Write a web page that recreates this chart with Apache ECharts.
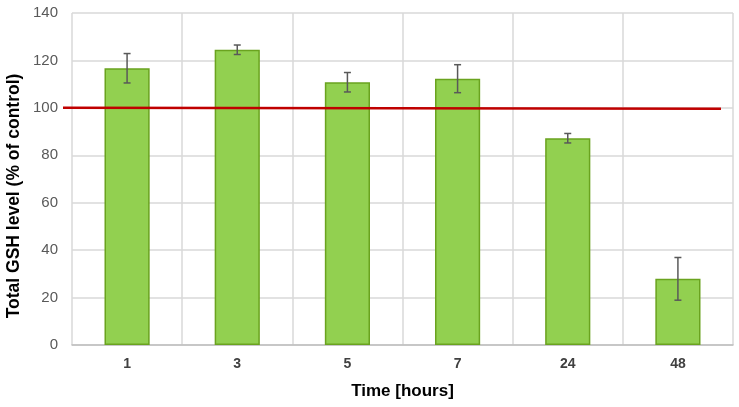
<!DOCTYPE html>
<html><head><meta charset="utf-8">
<script src="https://cdn.jsdelivr.net/npm/echarts@6/dist/echarts.min.js"></script>
<style>html,body{margin:0;padding:0;background:#fff}#c{width:739px;height:407px}</style>
</head><body><div id="c"></div>
<script>
const categories = ['1', '3', '5', '7', '24', '48'];
const values = [116.7, 124.5, 110.8, 112.3, 87.2, 27.9];
const errors = [6.2, 2.0, 4.1, 5.9, 2.0, 9.0];
const refLineX = [0, 1];
const refLineY = [100, 99.6];
const yTicks = [0, 20, 40, 60, 80, 100, 120, 140];

const chart = echarts.init(document.getElementById('c'));
const font = 'Liberation Sans, Arial, sans-serif';
const yMin = yTicks[0], yMax = yTicks[yTicks.length - 1];
chart.setOption({
  animation: false,
  grid: [
    {left: 72, right: 6, top: 13, bottom: 62},
    {left: 63, right: 18, top: 13, bottom: 62}
  ],
  xAxis: [{
    type: 'category', data: categories, gridIndex: 0,
    axisLine: {lineStyle: {color: '#BFBFBF', width: 1.5}},
    axisTick: {show: false},
    axisLabel: {color: '#404040', fontWeight: 'bold', fontSize: 14, fontFamily: font, margin: 12},
    splitLine: {show: true, lineStyle: {color: '#D9D9D9', width: 1.5}},
    name: 'Time [hours]', nameLocation: 'middle', nameGap: 38,
    nameTextStyle: {color: '#000', fontWeight: 'bold', fontSize: 17, fontFamily: font}
  }, {
    type: 'value', min: 0, max: 1, show: false, gridIndex: 1
  }],
  yAxis: [{
    type: 'value', min: yMin, max: yMax, interval: 20, gridIndex: 0,
    axisLine: {show: false}, axisTick: {show: false},
    axisLabel: {color: '#595959', fontSize: 15, fontFamily: font, margin: 14},
    splitLine: {lineStyle: {color: '#D9D9D9', width: 1.5}}
  }, {
    type: 'value', min: yMin, max: yMax, show: false, gridIndex: 1
  }],
  graphic: [{
    type: 'text', rotation: Math.PI / 2,
    style: {text: 'Total GSH level (% of control)', fill: '#000', font: 'bold 17.5px ' + font, textAlign: 'center', textVerticalAlign: 'middle'},
    x: 14, y: 196
  }],
  series: [{
    type: 'bar', data: values, barWidth: '41%',
    itemStyle: {color: '#92D050', borderColor: '#6AA31F', borderWidth: 1.5},
    z: 2
  }, {
    type: 'custom', z: 3,
    data: values.map((v, i) => [i, v - errors[i], v + errors[i]]),
    renderItem: function (params, api) {
      const lo = api.coord([api.value(0), api.value(1)]);
      const hi = api.coord([api.value(0), api.value(2)]);
      const w = 3.5;
      const st = {stroke: '#595959', lineWidth: 1.5};
      return {type: 'group', children: [
        {type: 'line', shape: {x1: hi[0], y1: hi[1], x2: lo[0], y2: lo[1]}, style: st},
        {type: 'line', shape: {x1: hi[0] - w, y1: hi[1], x2: hi[0] + w, y2: hi[1]}, style: st},
        {type: 'line', shape: {x1: lo[0] - w, y1: lo[1], x2: lo[0] + w, y2: lo[1]}, style: st}
      ]};
    }
  }, {
    type: 'line', xAxisIndex: 1, yAxisIndex: 1, symbol: 'none', z: 4,
    data: refLineX.map((x, i) => [x, refLineY[i]]),
    lineStyle: {color: '#C00000', width: 2.5}
  }]
});
</script></body></html>
